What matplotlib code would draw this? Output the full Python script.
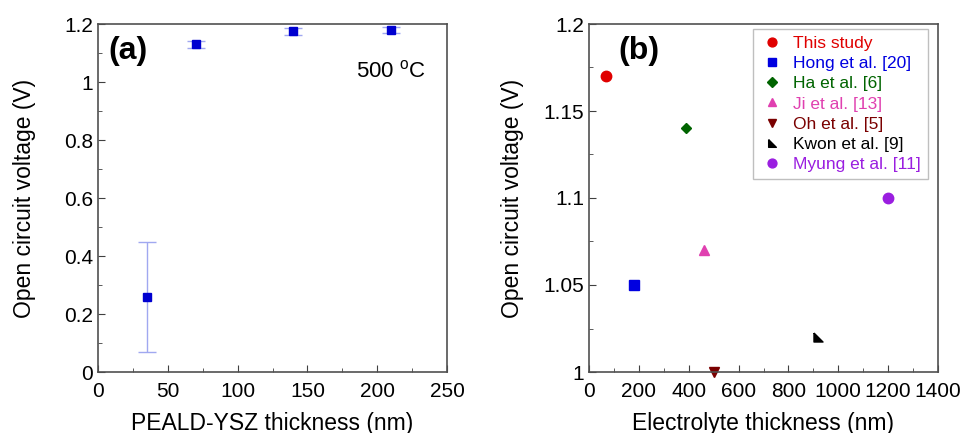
import matplotlib
matplotlib.use("Agg")
import matplotlib.pyplot as plt
from matplotlib.ticker import MultipleLocator

plt.rcParams['font.family'] = ['Liberation Sans', 'DejaVu Sans']

# panel (a)
thick_a = [35, 70, 140, 210]
ocv_a = [0.26, 1.13, 1.175, 1.18]
err_a = [0.19, 0.012, 0.012, 0.01]

# panel (b)
labels_b = ['This study', 'Hong et al. [20]', 'Ha et al. [6]', 'Ji et al. [13]',
            'Oh et al. [5]', 'Kwon et al. [9]', 'Myung et al. [11]']
thick_b = [70, 180, 390, 460, 500, 920, 1200]
ocv_b = [1.17, 1.05, 1.14, 1.07, 1.0, 1.02, 1.1]
colors_b = ['#e00000', '#0000e0', '#006400', '#e040b0', '#7a0000', '#000000', '#9a1ee0']
corner = [(-1, 1), (-1, -1), (1, -1), (-1, 1)]
markers_b = ['o', 's', 'D', '^', 'v', corner, 'o']
sizes_b = [7.5, 7.5, 5.5, 7, 7, 6.5, 7.5]

fig = plt.figure(figsize=(9.6, 4.33), dpi=100)
ax1 = fig.add_axes([98/960, 1-372/433, 349/960, 348/433])
ax2 = fig.add_axes([589/960, 1-372/433, 349/960, 348/433])

ax1.errorbar(thick_a, ocv_a, yerr=err_a, fmt='s', color='#0000d0', ms=5.5,
             ecolor='#a0a8f0', elinewidth=1, capsize=6.5, capthick=1)
ax1.set_xlim(0, 250)
ax1.set_ylim(0, 1.2)
ax1.set_xticks([0, 50, 100, 150, 200, 250])
ax1.xaxis.set_minor_locator(MultipleLocator(25))
ax1.set_yticks([0, 0.2, 0.4, 0.6, 0.8, 1.0, 1.2])
ax1.set_yticklabels(['0', '0.2', '0.4', '0.6', '0.8', '1', '1.2'])
ax1.yaxis.set_minor_locator(MultipleLocator(0.1))
ax1.set_ylabel('Open circuit voltage (V)', fontsize=16.5, labelpad=20)
ax1.set_xlabel('PEALD-YSZ thickness (nm)', fontsize=16.5, labelpad=8)
ax1.text(0.03, 0.965, '(a)', transform=ax1.transAxes, fontsize=23, fontweight='bold', va='top')
ax1.text(0.94, 0.865, '500 $^{\\mathregular{o}}$C', transform=ax1.transAxes, fontsize=16, ha='right', va='center')

for i in range(len(labels_b)):
    ax2.plot(thick_b[i], ocv_b[i], linestyle='none', marker=markers_b[i], color=colors_b[i],
             ms=sizes_b[i], label=labels_b[i], clip_on=False)
ax2.set_xlim(0, 1400)
ax2.set_ylim(1.0, 1.2)
ax2.set_xticks([0, 200, 400, 600, 800, 1000, 1200, 1400])
ax2.xaxis.set_minor_locator(MultipleLocator(100))
ax2.set_yticks([1.0, 1.05, 1.1, 1.15, 1.2])
ax2.set_yticklabels(['1', '1.05', '1.1', '1.15', '1.2'])
ax2.yaxis.set_minor_locator(MultipleLocator(0.025))
ax2.set_ylabel('Open circuit voltage (V)', fontsize=16.5, labelpad=14)
ax2.set_xlabel('Electrolyte thickness (nm)', fontsize=16.5, labelpad=8)
ax2.text(0.085, 0.965, '(b)', transform=ax2.transAxes, fontsize=23, fontweight='bold', va='top')
leg = ax2.legend(loc='upper right', fontsize=12.5, frameon=True, fancybox=False,
                 handletextpad=0.5, labelspacing=0.29, borderpad=0.4, markerscale=0.85,
                 bbox_to_anchor=(0.971, 0.986), handlelength=1.4, borderaxespad=0)
leg.get_frame().set_edgecolor('#b0b0b0')
leg.get_frame().set_linewidth(1)
for t, c in zip(leg.get_texts(), colors_b):
    t.set_color(c)

for ax in (ax1, ax2):
    ax.tick_params(which='both', direction='in', labelsize=15, color='#404040')
    ax.tick_params(which='major', length=5)
    ax.tick_params(which='minor', length=3)
    ax.tick_params(axis='x', pad=7)
    for s in ax.spines.values():
        s.set_color('#505050')
        s.set_linewidth(1.2)

fig.savefig('out.png', dpi=100)
